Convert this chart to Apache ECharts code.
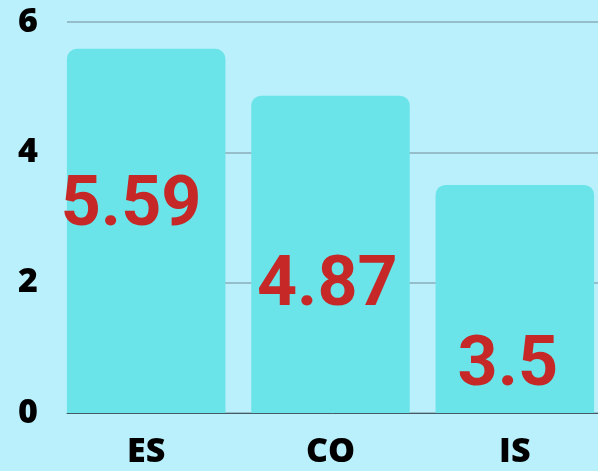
<!DOCTYPE html>
<html>
<head>
<meta charset="utf-8">
<script src="https://cdn.jsdelivr.net/npm/echarts@6/dist/echarts.min.js"></script>
<style>
  html, body { margin: 0; padding: 0; background: #baf0fc; }
  #main { width: 598px; height: 471px; }
</style>
</head>
<body>
<div id="main"></div>
<script>
var categories = ['ES', 'CO', 'IS'];
var values = [5.59, 4.87, 3.5];
// where each value label sits inside its bar
var labelX = ['40.5%', '48%', '45.6%'];
var labelY = ['43.5%', '60.5%', '80%'];

var myChart = echarts.init(document.getElementById('main'));

var axisFont = {
  color: '#000',
  fontFamily: 'Open Sans',
  fontWeight: 800,
  fontSize: 34
};

var option = {
  backgroundColor: '#baf0fc',
  grid: [
    // grid lines + y labels
    { left: 67, right: 0, top: 22, bottom: 58, outerBoundsMode: 'none' },
    // bars (wider, bars reach the plot edges)
    { left: 54, width: 553, top: 22, bottom: 58, outerBoundsMode: 'none' }
  ],
  xAxis: [
    {
      gridIndex: 0,
      type: 'category',
      data: categories,
      axisTick: { show: false },
      axisLabel: { show: false },
      axisLine: { lineStyle: { color: '#455a64', width: 1 } }
    },
    {
      gridIndex: 1,
      type: 'category',
      data: categories,
      axisTick: { show: false },
      axisLine: { show: false },
      axisLabel: Object.assign({ margin: 22 }, axisFont)
    }
  ],
  yAxis: [
    {
      gridIndex: 0,
      type: 'value',
      min: 0,
      max: 6,
      interval: 2,
      axisLine: { show: false },
      axisTick: { show: false },
      splitLine: { lineStyle: { color: '#8aacba', width: 1.5 } },
      axisLabel: Object.assign({ align: 'center', margin: 39 }, axisFont)
    },
    {
      gridIndex: 1,
      type: 'value',
      min: 0,
      max: 6,
      interval: 2,
      show: false,
      splitLine: { show: false }
    }
  ],
  series: [
    {
      type: 'bar',
      xAxisIndex: 1,
      yAxisIndex: 1,
      barCategoryGap: '14%',
      z: 3,
      data: values.map(function (v, i) {
        return {
          value: v,
          label: { position: [labelX[i], labelY[i]] }
        };
      }),
      itemStyle: { color: '#6ae4e8', borderRadius: [10, 10, 0, 0] },
      label: {
        show: true,
        align: 'center',
        verticalAlign: 'middle',
        color: '#c62828',
        fontFamily: 'Roboto',
        fontWeight: 'bold',
        fontSize: 70
      }
    }
  ]
};

myChart.setOption(option);
</script>
</body>
</html>
